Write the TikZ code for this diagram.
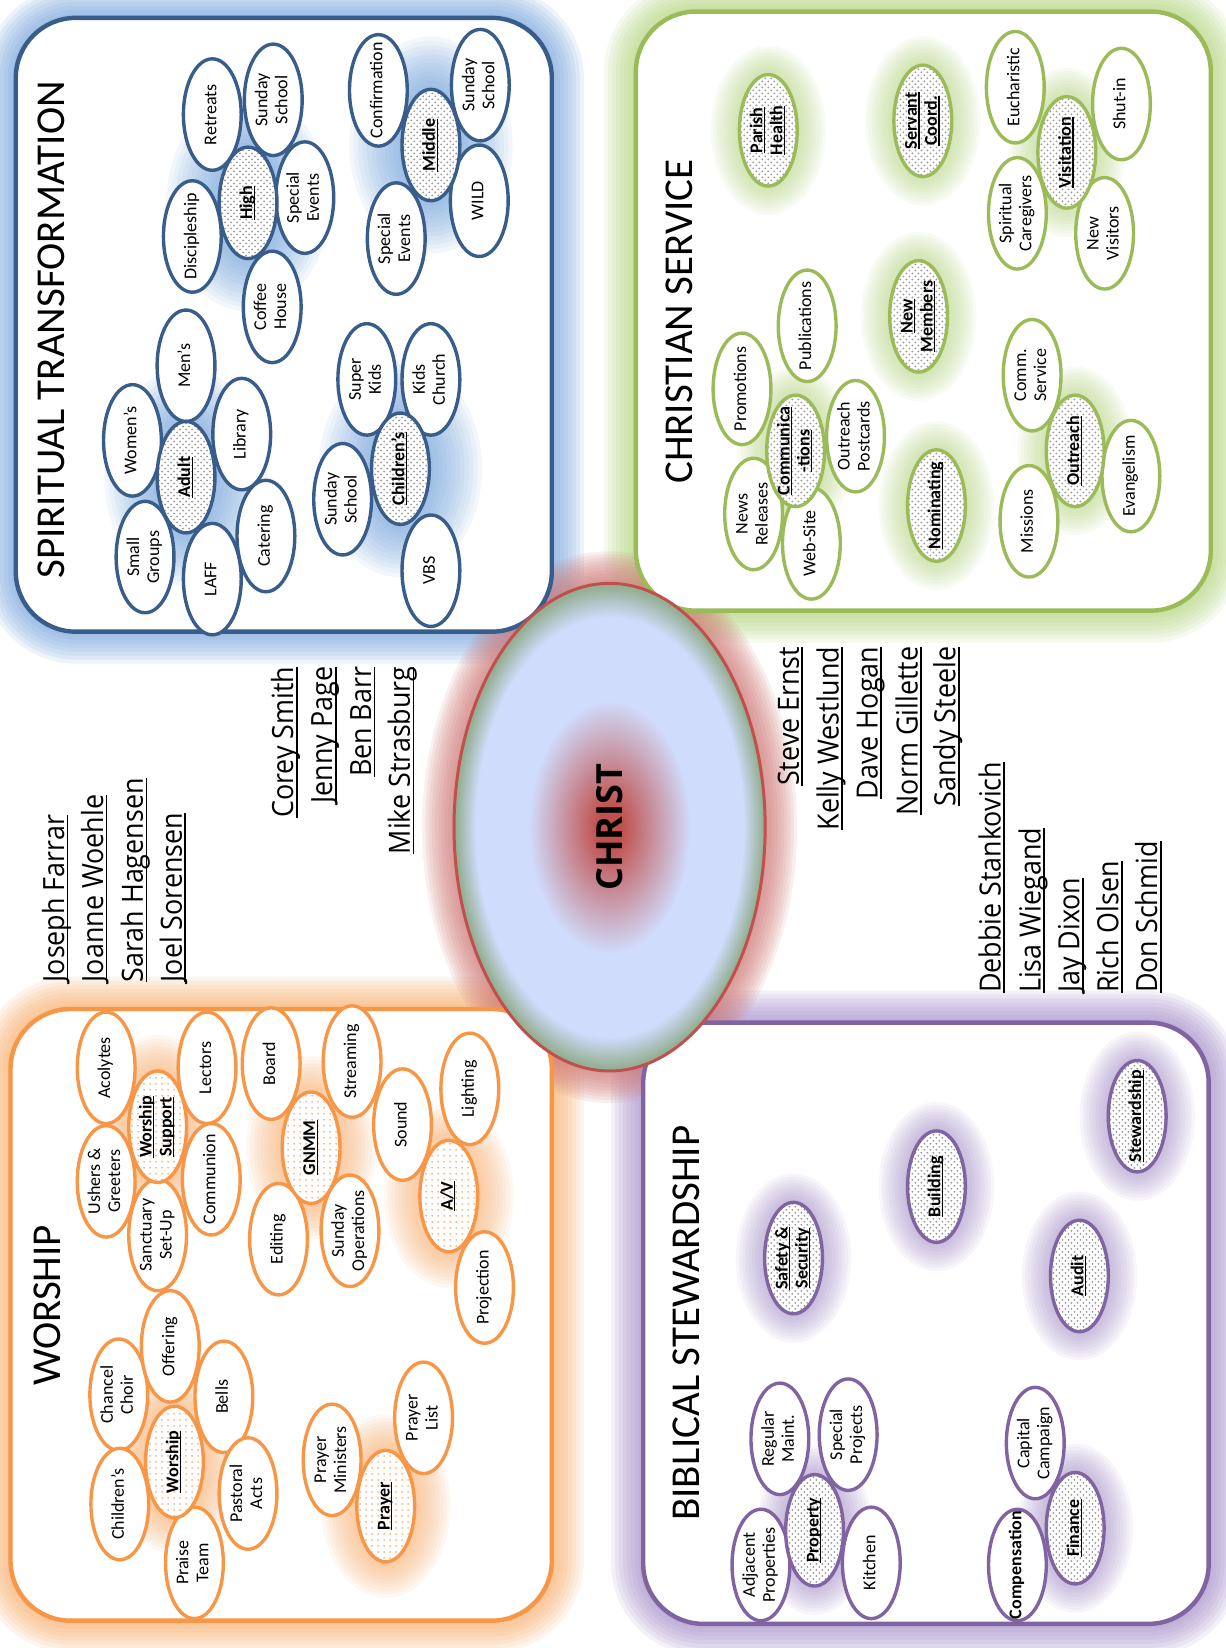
\documentclass[tikz,border=0pt]{standalone}
\usepackage{fontspec}
\setmainfont{Carlito}
\newfontfamily\namefont{Open Sans}
\usetikzlibrary{shapes.geometric}
\usetikzlibrary{patterns}

\definecolor{stline}{RGB}{56,93,138}
\definecolor{stglow}{RGB}{110,160,220}
\definecolor{csline}{RGB}{155,187,89}
\definecolor{csglow}{RGB}{178,212,118}
\definecolor{wsline}{RGB}{247,150,70}
\definecolor{wsglow}{RGB}{250,170,100}
\definecolor{bsline}{RGB}{128,100,162}
\definecolor{bsglow}{RGB}{160,135,198}
\definecolor{christred}{RGB}{192,80,77}
\definecolor{christblue}{RGB}{208,220,252}
\definecolor{christring}{RGB}{150,176,150}

\pgfdeclareradialshading{christfill}{\pgfpointorigin}{color(0bp)=(christred); color(2bp)=(christred); color(13bp)=(christblue); color(21.5bp)=(christblue); color(24.6bp)=(christring); color(25bp)=(christring); color(50bp)=(christring)}

\pgfdeclarelayer{panel}
\pgfdeclarelayer{glow}
\pgfsetlayers{panel,glow,main}

\newcommand{\ellsize}{\fontsize{9}{10}\selectfont}
\newcommand{\etxt}[1]{\makebox[0pt]{\begin{tabular}{@{}c@{}}#1\end{tabular}}}
\newcommand{\uln}[1]{\setbox0\hbox{#1}\rlap{\rule[-0.15em]{\wd0}{0.06em}}\box0}
\newcommand{\hubglow}[4]{\foreach \k in {1,...,#3} {\fill[#2, opacity=0.08] (#1.center) ellipse [x radius={14.45pt+\k*#4}, y radius={27.85pt+\k*#4}];}}

\begin{document}
\begin{tikzpicture}[
			x={(0.5253pt,0)}, y={(0,-0.5253pt)},
			ell/.style={ellipse, rotate=90, draw=#1, line width=1.7pt, fill=white, inner sep=0pt, outer sep=0pt, minimum width=55.7pt, minimum height=28.9pt, font=\ellsize},
			hub/.style={ell=#1, font=\ellsize\bfseries, preaction={fill=white}, pattern=crosshatch dots, pattern color=black!40},
			whub/.style={ell=#1, font=\ellsize\bfseries, preaction={fill=white}, pattern=dots, pattern color=wsline!70},
			title/.style={rotate=90, inner sep=0pt, font=\fontsize{20.5}{24}\selectfont},
			person/.style={rotate=90, xscale=0.92, inner sep=0pt, font=\namefont\fontsize{14.6}{18}\selectfont},
			]
			\useasboundingbox (0,0) rectangle (1166,1568);
			
			% panels and their glow
			\begin{pgfonlayer}{panel}
			\fill[white] (0,0) rectangle (1166,1568);
			\foreach \k in {1,...,8} {
				\draw[stglow, opacity=0.12, line width=\k*4pt, rounded corners=30pt] (15,17) rectangle (525,601);
				\draw[csglow, opacity=0.12, line width=\k*4pt, rounded corners=30pt] (605,11) rectangle (1152,581);
				\draw[wsglow, opacity=0.12, line width=\k*4pt, rounded corners=30pt] (10,960) rectangle (525,1542);
				\draw[bsglow, opacity=0.12, line width=\k*4pt, rounded corners=30pt] (612,973) rectangle (1150,1545);
			}
			\foreach \k in {1,...,10}
				\fill[christred!75, opacity=0.12] (580,787) ellipse [x radius={77.7pt+\k*1.6pt}, y radius={121.9pt+\k*1.6pt}];
			\draw[stline, line width=2.2pt, fill=white, rounded corners=30pt] (15,17) rectangle (525,601);
			\draw[csline, line width=2.2pt, fill=white, rounded corners=30pt] (605,11) rectangle (1152,581);
			\draw[wsline, line width=2.2pt, fill=white, rounded corners=30pt] (10,960) rectangle (525,1542);
			\draw[bsline, line width=2.2pt, fill=white, rounded corners=30pt] (612,973) rectangle (1150,1545);
			\end{pgfonlayer}
			
			\node[ellipse, shade, shading=christfill, draw=christred, line width=1.5pt, inner sep=0pt, minimum width=155.5pt, minimum height=243.7pt] (christ) at (580,787) {\rotatebox{90}{\namefont\bfseries\fontsize{18}{20}\selectfont CHRIST}};
			
			\node[title] (sttitle) at (49,314)   {SPIRITUAL TRANSFORMATION};
			\node[title] (cstitle) at (646,306)  {CHRISTIAN SERVICE};
			\node[title] (wstitle) at (45,1242)  {WORSHIP};
			\node[title] (bstitle) at (653,1259) {BIBLICAL STEWARDSHIP};
			
			% names
			\node[person, anchor=base west] (farrar)    at (61,935)   {\uln{Joseph Farrar}};
			\node[person, anchor=base west] (woehle)    at (98,935)   {\uln{Joanne Woehle}};
			\node[person, anchor=base west] (hagensen)  at (136,935)  {\uln{Sarah Hagensen}};
			\node[person, anchor=base west] (sorensen)  at (173,935)  {\uln{Joel Sorensen}};
			\node[person, anchor=base east] (smith)     at (279,634)  {\uln{Corey Smith}};
			\node[person, anchor=base east] (page)      at (316,634)  {\uln{Jenny Page}};
			\node[person, anchor=base east] (barr)      at (353,634)  {\uln{Ben Barr}};
			\node[person, anchor=base east] (strasburg) at (390,634)  {\uln{Mike Strasburg}};
			\node[person, anchor=base east] (ernst)     at (760,615)  {\uln{Steve Ernst}};
			\node[person, anchor=base east] (westlund)  at (798,615)  {\uln{Kelly Westlund}};
			\node[person, anchor=base east] (hogan)     at (835,615)  {\uln{Dave Hogan}};
			\node[person, anchor=base east] (gillette)  at (873,615)  {\uln{Norm Gillette}};
			\node[person, anchor=base east] (steele)    at (909,615)  {\uln{Sandy Steele}};
			\node[person, anchor=base west] (stankovich) at (952,945) {\uln{Debbie Stankovich}};
			\node[person, anchor=base west] (wiegand)   at (990,945)  {\uln{Lisa Wiegand}};
			\node[person, anchor=base west] (dixon)     at (1027,945) {\uln{Jay Dixon}};
			\node[person, anchor=base west] (olsen)     at (1064,945) {\uln{Rich Olsen}};
			\node[person, anchor=base west] (schmid)    at (1101,945) {\uln{Don Schmid}};
			
			% spiritual transformation
			\node[ell=stline] (smallgroups) at (138,530) {\etxt{Small\\Groups}};
			\node[ell=stline] (laff)        at (202,551) {\etxt{LAFF}};
			\node[ell=stline] (catering)    at (253,510) {\etxt{Catering}};
			\node[ell=stline] (womens)      at (126,419) {\etxt{Women’s}};
			\node[ell=stline] (mens)        at (177,348) {\etxt{Men’s}};
			\node[ell=stline] (library)     at (230,413) {\etxt{Library}};
			\node[hub=stline] (adult)       at (177,454) {\etxt{\uln{Adult}}};
			\node[ell=stline] (discipleship) at (183,225) {\etxt{Discipleship}};
			\node[ell=stline] (retreats)    at (202,109) {\etxt{Retreats}};
			\node[ell=stline] (hssunday)    at (260,95)  {\etxt{Sunday\\School}};
			\node[ell=stline] (hsevents)    at (290,188) {\etxt{Special\\Events}};
			\node[ell=stline] (coffee)      at (259,292) {\etxt{Coffee\\House}};
			\node[hub=stline] (high)        at (236,193) {\etxt{\uln{High}}};
			\node[ell=stline] (confirmation) at (360,86) {\etxt{Confirmation}};
			\node[ell=stline] (mssunday)    at (457,81)  {\etxt{Sunday\\School}};
			\node[ell=stline] (wild)        at (456,191) {\etxt{WILD}};
			\node[ell=stline] (msevents)    at (377,227) {\etxt{Special\\Events}};
			\node[hub=stline] (middle)      at (410,138) {\etxt{\uln{Middle}}};
			\node[ell=stline] (superkids)   at (349,361) {\etxt{Super\\Kids}};
			\node[ell=stline] (kidschurch)  at (410,361) {\etxt{Kids\\Church}};
			\node[ell=stline] (cssunday)    at (326,475) {\etxt{Sunday\\School}};
			\node[ell=stline] (vbs)         at (410,543) {\etxt{VBS}};
			\node[hub=stline] (childrens)   at (381,446) {\etxt{\uln{Children’s}}};
			
			% christian service
			\node[hub=csline] (parish)      at (731,124) {\etxt{\uln{Parish}\\\uln{Health}}};
			\node[hub=csline] (servant)     at (878,115) {\etxt{\uln{Servant}\\\uln{Coord.}}};
			\node[ell=csline] (eucharistic) at (966,83)  {\etxt{Eucharistic}};
			\node[ell=csline] (shutin)      at (1067,99) {\etxt{Shut-in}};
			\node[ell=csline] (caregivers)  at (968,203) {\etxt{Spiritual\\Caregivers}};
			\node[ell=csline] (newvisitors) at (1051,222) {\etxt{New\\Visitors}};
			\node[hub=csline] (visitation)  at (1015,145) {\etxt{\uln{Visitation}}};
			\node[hub=csline] (newmembers)  at (874,301) {\etxt{\uln{New}\\\uln{Members}}};
			\node[ell=csline] (publications) at (768,310) {\etxt{Publications}};
			\node[ell=csline] (promotions)  at (706,370) {\etxt{Promotions}};
			\node[ell=csline] (postcards)   at (814,415) {\etxt{Outreach\\Postcards}};
			\node[ell=csline] (newsreleases) at (717,489) {\etxt{News\\Releases}};
			\node[ell=csline] (website)     at (772,517) {\etxt{Web-Site}};
			\node[hub=csline] (communications) at (757,429) {\etxt{\uln{Communica}\\\uln{-tions}}};
			\node[hub=csline] (nominating)  at (891,481) {\etxt{\uln{Nominating}}};
			\node[ell=csline] (commservice) at (982,357) {\etxt{Comm.\\Service}};
			\node[ell=csline] (missions)    at (979,496) {\etxt{Missions}};
			\node[ell=csline] (evangelism)  at (1076,453) {\etxt{Evangelism}};
			\node[hub=csline] (outreach)    at (1023,429) {\etxt{\uln{Outreach}}};
			
			% worship
			\node[ell=wsline] (acolytes)    at (101,1016) {\etxt{Acolytes}};
			\node[ell=wsline] (ushers)      at (101,1124) {\etxt{Ushers \&\\Greeters}};
			\node[ell=wsline] (setup)       at (150,1175) {\etxt{Sanctuary\\Set-Up}};
			\node[ell=wsline] (lectors)     at (197,1016) {\etxt{Lectors}};
			\node[ell=wsline] (communion)   at (201,1122) {\etxt{Communion}};
			\node[whub=wsline] (support)    at (150,1072) {\etxt{\uln{Worship}\\\uln{Support}}};
			\node[ell=wsline] (board)       at (258,1012) {\etxt{Board}};
			\node[ell=wsline] (streaming)   at (335,1010) {\etxt{Streaming}};
			\node[ell=wsline] (editing)     at (265,1179) {\etxt{Editing}};
			\node[ell=wsline] (operations)  at (333,1171) {\etxt{Sunday\\Operations}};
			\node[whub=wsline] (gnmm)       at (296,1092) {\etxt{\uln{GNMM}}};
			\node[ell=wsline] (sound)       at (383,1070) {\etxt{Sound}};
			\node[ell=wsline] (lighting)    at (447,1036) {\etxt{Lighting}};
			\node[ell=wsline] (projection)  at (461,1225) {\etxt{Projection}};
			\node[whub=wsline] (av)         at (427,1138) {\etxt{\uln{A/V}}};
			\node[ell=wsline] (choir)       at (113,1327) {\etxt{Chancel\\Choir}};
			\node[ell=wsline] (offering)    at (162,1281) {\etxt{Offering}};
			\node[ell=wsline] (bells)       at (213,1329) {\etxt{Bells}};
			\node[ell=wsline] (wchildrens)  at (114,1431) {\etxt{Children’s}};
			\node[ell=wsline] (pastoral)    at (236,1421) {\etxt{Pastoral\\Acts}};
			\node[ell=wsline] (praise)      at (185,1487) {\etxt{Praise\\Team}};
			\node[whub=wsline] (worship)    at (166,1391) {\etxt{\uln{Worship}}};
			\node[ell=wsline] (ministers)   at (316,1389) {\etxt{Prayer\\Ministers}};
			\node[ell=wsline] (prayerlist)  at (403,1349) {\etxt{Prayer\\List}};
			\node[whub=wsline] (prayer)     at (367,1433) {\etxt{\uln{Prayer}}};
			
			% biblical stewardship
			\node[hub=bsline] (safety)      at (755,1197) {\etxt{\uln{Safety \&}\\\uln{Security}}};
			\node[hub=bsline] (building)    at (891,1129) {\etxt{\uln{Building}}};
			\node[hub=bsline] (stewardship) at (1082,1062) {\etxt{\uln{Stewardship}}};
			\node[hub=bsline] (audit)       at (1027,1214) {\etxt{\uln{Audit}}};
			\node[ell=bsline] (maint)       at (742,1369) {\etxt{Regular\\Maint.}};
			\node[ell=bsline] (projects)    at (807,1365) {\etxt{Special\\Projects}};
			\node[ell=bsline] (adjacent)    at (724,1489) {\etxt{Adjacent\\Properties}};
			\node[ell=bsline] (kitchen)     at (829,1487) {\etxt{Kitchen}};
			\node[hub=bsline] (property)    at (775,1456) {\etxt{\uln{Property}}};
			\node[ell=bsline] (campaign)    at (985,1373) {\etxt{Capital\\Campaign}};
			\node[ell=bsline, font=\ellsize\bfseries] (compensation) at (968,1489) {\etxt{Compensation}};
			\node[hub=bsline] (finance)     at (1023,1454) {\etxt{\uln{Finance}}};
			
			% glow round the hubs
			\begin{pgfonlayer}{glow}
			\foreach \n in {adult,high,middle,childrens} \hubglow{\n}{stglow}{12}{2.2pt};
			\foreach \n in {parish,servant,visitation,newmembers,communications,nominating,outreach} \hubglow{\n}{csglow}{9}{1.6pt};
			\foreach \n in {support,gnmm,av,worship,prayer} \hubglow{\n}{wsglow}{10}{1.8pt};
			\foreach \n in {safety,building,stewardship,audit,property,finance} \hubglow{\n}{bsglow}{9}{1.6pt};
			\end{pgfonlayer}
			
\end{tikzpicture}
\end{document}
